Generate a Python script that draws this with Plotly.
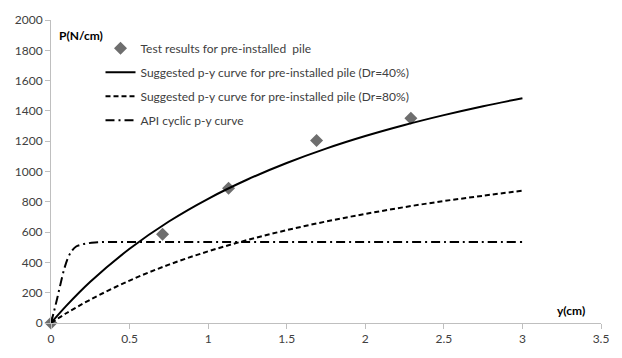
import plotly.graph_objects as go

# Test data
test_y = [0, 0.71, 1.13, 1.69, 2.29]
test_p = [0, 585, 890, 1205, 1352]

# Suggested p-y curve Dr=40%
curve_y = [0, 0.1, 0.25, 0.5, 0.75, 1.0, 1.25, 1.5, 1.75, 2.0, 2.25, 2.5, 2.75, 3.0]
dr40_p = [0, 116, 272, 490, 670, 820, 947, 1056, 1151, 1234, 1307, 1372, 1431, 1484]
# Suggested p-y curve Dr=80%
dr80_p = [0, 66, 154, 280, 385, 473, 548, 613, 670, 720, 765, 805, 840, 873]

# API cyclic curve
api_y = [0, 0.02, 0.04, 0.06, 0.085, 0.11, 0.135, 0.16, 0.185, 0.22, 0.28, 0.35, 0.5, 1.0, 1.5, 2.0, 2.5, 3.0]
api_p = [0, 80, 165, 255, 360, 435, 480, 505, 515, 524, 531, 535, 535, 535, 535, 535, 535, 535]

x_ticks = [0, 0.5, 1, 1.5, 2, 2.5, 3, 3.5]
y_ticks = [0, 200, 400, 600, 800, 1000, 1200, 1400, 1600, 1800, 2000]

FONT = "Lato, 'Open Sans', sans-serif"
TXT = "#404040"

fig = go.Figure()
fig.add_trace(go.Scatter(x=test_y, y=test_p, mode="markers",
                         name="Test results for pre-installed\u00a0 pile",
                         legendgroup="a", cliponaxis=False,
                         marker=dict(symbol="diamond", size=10, color="#6e6e6e")))
fig.add_trace(go.Scatter(x=curve_y, y=dr40_p, mode="lines", line_shape="spline",
                         name="Suggested p-y curve for pre-installed pile (Dr=40%)",
                         legendgroup="b",
                         line=dict(color="black", width=2)))
fig.add_trace(go.Scatter(x=curve_y, y=dr80_p, mode="lines", line_shape="spline",
                         name="Suggested p-y curve for pre-installed pile (Dr=80%)",
                         legendgroup="c",
                         line=dict(color="black", width=2, dash="5px,3px")))
fig.add_trace(go.Scatter(x=api_y, y=api_p, mode="lines", line_shape="spline",
                         name="API cyclic p-y curve",
                         legendgroup="d",
                         line=dict(color="black", width=2, dash="9px,4px,2px,4px")))

axis_common = dict(showgrid=False, zeroline=False, showline=True, linecolor="#bfbfbf",
                   linewidth=1, ticks="outside", tickcolor="#bfbfbf", ticklen=5,
                   tickfont=dict(family=FONT, size=12, color=TXT))

fig.update_layout(
    width=622, height=358,
    margin=dict(l=51, r=21, t=13, b=35),
    paper_bgcolor="white", plot_bgcolor="white",
    font=dict(family=FONT, size=12, color=TXT),
    xaxis=dict(range=[0, 3.5], tickvals=x_ticks, ticktext=[str(v) for v in x_ticks], **axis_common),
    yaxis=dict(range=[0, 2000], tickvals=y_ticks, **axis_common),
    legend=dict(x=0.09, y=0.955, xanchor="left", yanchor="top", bgcolor="rgba(0,0,0,0)",
                tracegroupgap=5, font=dict(family=FONT, size=12, color=TXT)),
    showlegend=True,
    annotations=[
        dict(text="<b>P(N/cm)</b>", xref="paper", yref="paper", x=0.01, y=0.95,
             xanchor="left", yanchor="middle", showarrow=False,
             font=dict(family=FONT, size=12, color="black")),
        dict(text="<b>y(cm)</b>", xref="paper", yref="paper", x=0.975, y=0.04,
             xanchor="right", yanchor="middle", showarrow=False,
             font=dict(family=FONT, size=12, color="black")),
    ],
)

fig.write_html("out.html", config={"displayModeBar": False},
               post_script="document.body.style.margin='0';")
